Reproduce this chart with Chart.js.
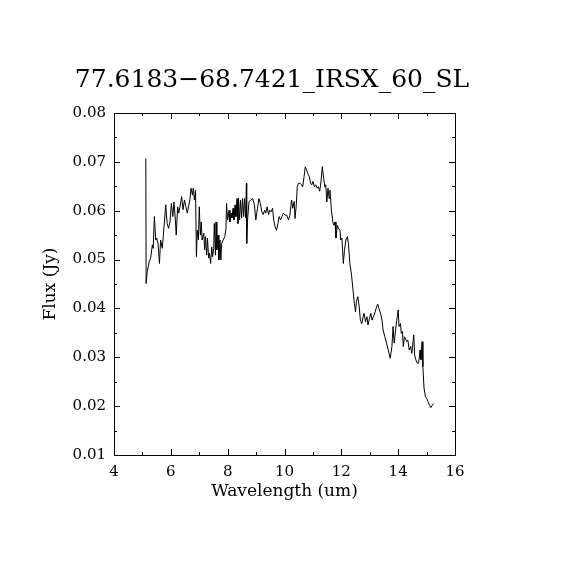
<!doctype html>
<html>
<head>
<meta charset="UTF-8">
<title>77.6183-68.7421_IRSX_60_SL</title>
<script src="https://cdn.jsdelivr.net/npm/chart.js@4/dist/chart.umd.min.js"></script>
<style>
	body { margin: 0; background: #fff; }
	canvas { display: block; }
</style>
</head>
<body>
<canvas id="spec" width="570" height="570"></canvas>
<script>
	var chartTitle = '77.6183\u221268.7421_IRSX_60_SL';

	var wavelength = [
		5.12, 5.13, 5.17, 5.24, 5.29, 5.35, 5.38, 5.42, 5.47, 5.50, 5.55, 5.60, 5.64, 5.70, 5.76, 5.82,
		5.87, 5.92, 5.97, 6.02, 6.07, 6.11, 6.16, 6.19, 6.24, 6.28, 6.35, 6.38, 6.43, 6.48, 6.53, 6.58,
		6.62, 6.67, 6.71, 6.76, 6.79, 6.83, 6.87, 6.90, 6.93, 6.97, 7.00, 7.04, 7.07, 7.10, 7.16, 7.19,
		7.22, 7.26, 7.29, 7.33, 7.36, 7.40, 7.44, 7.47, 7.51, 7.53, 7.57, 7.59, 7.62, 7.66, 7.69, 7.73,
		7.76, 7.79, 7.84, 7.90, 7.94, 7.96, 8.00, 8.05, 8.08, 8.12, 8.15, 8.19, 8.22, 8.26, 8.29, 8.33,
		8.36, 8.38, 8.42, 8.45, 8.49, 8.52, 8.56, 8.59, 8.63, 8.66, 8.67, 8.70, 8.75, 8.81, 8.88, 8.94,
		8.99, 9.05, 9.10, 9.15, 9.20, 9.25, 9.30, 9.34, 9.39, 9.44, 9.48, 9.53, 9.58, 9.62, 9.67, 9.72,
		9.77, 9.81, 9.86, 9.91, 9.96, 10.02, 10.08, 10.14, 10.19, 10.25, 10.29, 10.34, 10.37, 10.41, 10.45, 10.49,
		10.55, 10.60, 10.64, 10.69, 10.73, 10.78, 10.82, 10.87, 10.92, 10.96, 11.00, 11.05, 11.10, 11.15, 11.19, 11.24,
		11.29, 11.33, 11.38, 11.42, 11.45, 11.49, 11.53, 11.57, 11.60, 11.65, 11.70, 11.74, 11.78, 11.81, 11.86, 11.90,
		11.95, 11.98, 12.02, 12.07, 12.11, 12.16, 12.21, 12.25, 12.30, 12.36, 12.41, 12.46, 12.50, 12.53, 12.58, 12.63,
		12.67, 12.72, 12.77, 12.80, 12.85, 12.90, 12.94, 12.99, 13.04, 13.08, 13.13, 13.19, 13.24, 13.28, 13.32, 13.38,
		13.43, 13.47, 13.53, 13.59, 13.65, 13.72, 13.78, 13.82, 13.86, 13.91, 13.95, 14.00, 14.03, 14.08, 14.11, 14.15,
		14.18, 14.22, 14.25, 14.30, 14.34, 14.39, 14.44, 14.48, 14.55, 14.58, 14.62, 14.67, 14.72, 14.77, 14.80, 14.84,
		14.87, 14.91, 14.96, 15.00, 15.05, 15.10, 15.15, 15.20, 15.24
	];

	var flux = [
		0.0707, 0.0451, 0.0475, 0.0496, 0.0503, 0.0530, 0.0523, 0.0588, 0.0540, 0.0544, 0.0533, 0.0492, 0.0540, 0.0523, 0.0567, 0.0612,
		0.0574, 0.0564, 0.0577, 0.0615, 0.0588, 0.0618, 0.0581, 0.0550, 0.0608, 0.0595, 0.0618, 0.0629, 0.0602, 0.0622, 0.0608, 0.0595,
		0.0608, 0.0622, 0.0646, 0.0632, 0.0646, 0.0622, 0.0642, 0.0506, 0.0560, 0.0540, 0.0608, 0.0550, 0.0577, 0.0540, 0.0554, 0.0520,
		0.0547, 0.0509, 0.0544, 0.0503, 0.0513, 0.0492, 0.0526, 0.0506, 0.0523, 0.0574, 0.0509, 0.0577, 0.0520, 0.0550, 0.0499, 0.0540,
		0.0499, 0.0533, 0.0540, 0.0547, 0.0564, 0.0615, 0.0581, 0.0601, 0.0577, 0.0595, 0.0585, 0.0605, 0.0581, 0.0612, 0.0588, 0.0625,
		0.0574, 0.0625, 0.0581, 0.0622, 0.0585, 0.0625, 0.0588, 0.0625, 0.0585, 0.0656, 0.0533, 0.0581, 0.0618, 0.0622, 0.0625, 0.0612,
		0.0581, 0.0605, 0.0625, 0.0615, 0.0598, 0.0592, 0.0601, 0.0595, 0.0608, 0.0592, 0.0601, 0.0598, 0.0605, 0.0581, 0.0567, 0.0560,
		0.0574, 0.0588, 0.0581, 0.0588, 0.0595, 0.0591, 0.0591, 0.0581, 0.0591, 0.0622, 0.0605, 0.0619, 0.0584, 0.0608, 0.0649, 0.0656,
		0.0656, 0.0653, 0.0649, 0.0670, 0.0690, 0.0683, 0.0676, 0.0670, 0.0656, 0.0653, 0.0660, 0.0649, 0.0653, 0.0646, 0.0649, 0.0640,
		0.0663, 0.0690, 0.0666, 0.0649, 0.0653, 0.0618, 0.0646, 0.0625, 0.0642, 0.0601, 0.0577, 0.0570, 0.0577, 0.0544, 0.0570, 0.0564,
		0.0560, 0.0540, 0.0544, 0.0492, 0.0519, 0.0540, 0.0547, 0.0533, 0.0492, 0.0468, 0.0438, 0.0410, 0.0393, 0.0414, 0.0424, 0.0403,
		0.0376, 0.0369, 0.0383, 0.0390, 0.0373, 0.0383, 0.0366, 0.0380, 0.0390, 0.0376, 0.0383, 0.0393, 0.0403, 0.0409, 0.0400, 0.0390,
		0.0376, 0.0356, 0.0342, 0.0329, 0.0315, 0.0298, 0.0322, 0.0363, 0.0329, 0.0356, 0.0376, 0.0397, 0.0363, 0.0369, 0.0349, 0.0353,
		0.0322, 0.0342, 0.0339, 0.0332, 0.0335, 0.0315, 0.0322, 0.0308, 0.0346, 0.0305, 0.0295, 0.0288, 0.0288, 0.0315, 0.0295, 0.0332,
		0.0281, 0.0237, 0.0219, 0.0216, 0.0209, 0.0202, 0.0197, 0.0202, 0.0205
	];

	// tick values (major get labels, minor are just little marks)
	var xTicks = [4, 6, 8, 10, 12, 14, 16];
	var xMinor = [5, 7, 9, 11, 13, 15];
	var yTicks = [0.01, 0.02, 0.03, 0.04, 0.05, 0.06, 0.07, 0.08];
	var yMinor = [0.015, 0.025, 0.035, 0.045, 0.055, 0.065, 0.075];

	var serif = '"DejaVu Serif", "Liberation Serif", serif';

	var points = [];
	for (var i = 0; i < wavelength.length; i++) {
		points.push({ x: wavelength[i], y: flux[i] });
	}

	// box around the plot, ticks pointing inward on all four sides, plus the title
	var framePlugin = {
		id: 'frame',
		afterDraw: function (chart) {
			var ctx = chart.ctx;
			var a = chart.chartArea;
			var xs = chart.scales.x, ys = chart.scales.y;
			ctx.save();
			ctx.strokeStyle = '#000';
			ctx.lineWidth = 1;
			ctx.strokeRect(Math.round(a.left) + 0.5, Math.round(a.top) + 0.5,
				Math.round(a.right - a.left), Math.round(a.bottom - a.top));

			ctx.beginPath();
			var drawX = function (v, len) {
				var px = Math.round(xs.getPixelForValue(v)) + 0.5;
				ctx.moveTo(px, a.bottom); ctx.lineTo(px, a.bottom - len);
				ctx.moveTo(px, a.top); ctx.lineTo(px, a.top + len);
			};
			var drawY = function (v, len) {
				var py = Math.round(ys.getPixelForValue(v)) + 0.5;
				ctx.moveTo(a.left, py); ctx.lineTo(a.left + len, py);
				ctx.moveTo(a.right, py); ctx.lineTo(a.right - len, py);
			};
			xTicks.forEach(function (v) { drawX(v, 6); });
			xMinor.forEach(function (v) { drawX(v, 3); });
			yTicks.forEach(function (v) { drawY(v, 6); });
			yMinor.forEach(function (v) { drawY(v, 3); });
			ctx.stroke();

			ctx.fillStyle = '#000';
			ctx.font = '25px ' + serif;
			ctx.textAlign = 'center';
			ctx.textBaseline = 'middle';
			ctx.fillText(chartTitle, 272, 80);
			ctx.restore();
		}
	};

	var config = {
		type: 'scatter',
		data: {
			datasets: [
				{
					data: points,
					showLine: true,
					borderColor: '#000',
					borderWidth: 1,
					pointRadius: 0,
					tension: 0,
					fill: false
				}
			]
		},
		options: {
			responsive: false,
			animation: false,
			devicePixelRatio: 1,
			layout: {
				padding: { left: 0, right: 115, top: 113, bottom: 0 }
			},
			plugins: {
				legend: { display: false },
				title: { display: false },
				tooltip: { enabled: false }
			},
			scales: {
				x: {
					type: 'linear',
					min: 4,
					max: 16,
					grid: { display: false, drawTicks: false },
					border: { display: true, color: '#000' },
					afterBuildTicks: function (s) {
						s.ticks = xTicks.map(function (v) { return { value: v }; });
					},
					afterFit: function (s) { s.height = 115; },
					ticks: {
						color: '#000',
						padding: 8,
						maxRotation: 0,
						font: { family: serif, size: 15 },
						callback: function (v) { return String(v); }
					},
					title: {
						display: true,
						text: 'Wavelength (um)',
						color: '#000',
						font: { family: serif, size: 17 },
						padding: { top: 0, bottom: 68 }
					}
				},
				y: {
					type: 'linear',
					min: 0.01,
					max: 0.08,
					grid: { display: false, drawTicks: false },
					border: { display: true, color: '#000' },
					afterBuildTicks: function (s) {
						s.ticks = yTicks.map(function (v) { return { value: v }; });
					},
					afterFit: function (s) { s.width = 114; },
					ticks: {
						color: '#000',
						padding: 8,
						font: { family: serif, size: 15 },
						callback: function (v) { return v.toFixed(2); }
					},
					title: {
						display: true,
						text: 'Flux (Jy)',
						color: '#000',
						font: { family: serif, size: 17 },
						padding: { top: 40, bottom: 0 }
					}
				}
			}
		},
		plugins: [framePlugin]
	};

	window.mySpec = new Chart(document.getElementById('spec').getContext('2d'), config);
</script>
</body>
</html>
